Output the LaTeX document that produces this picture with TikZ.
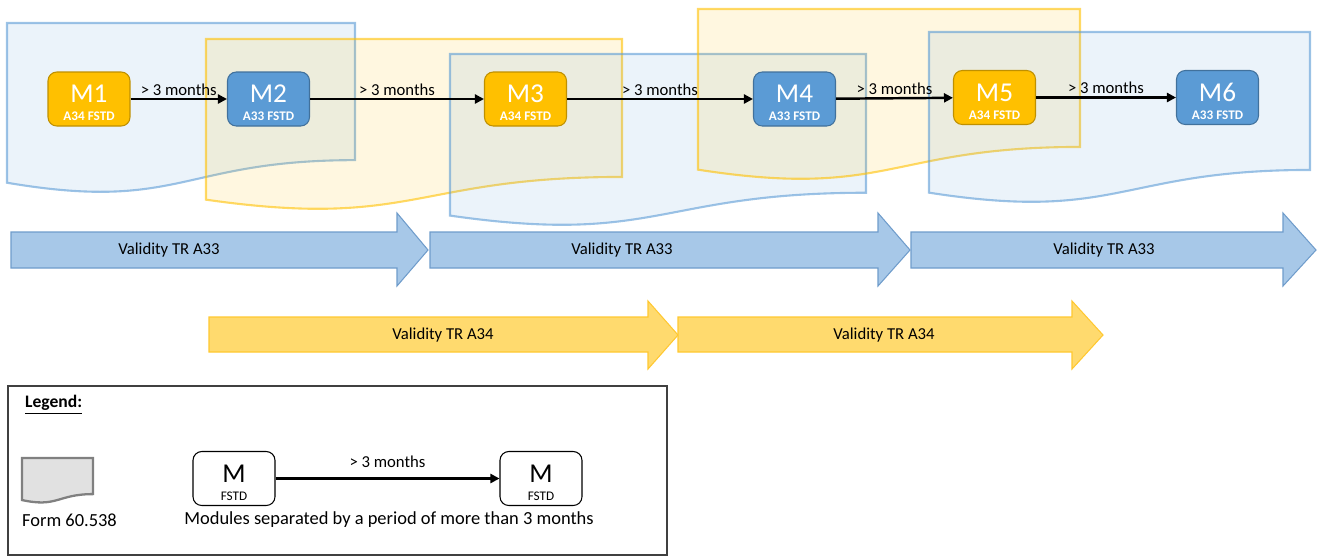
\documentclass[tikz,border=0pt]{standalone}
\usepackage{fontspec}
\setmainfont{Carlito}
\usetikzlibrary{arrows.meta}
\definecolor{ModBlue}{HTML}{5B9BD5}
\definecolor{ModBlueLine}{HTML}{41719C}
\definecolor{ModGold}{HTML}{FFC000}
\definecolor{ModGoldLine}{HTML}{BF9000}
\definecolor{TRBlue}{HTML}{A7C8E8}
\definecolor{TRBlueLine}{HTML}{6F9CCB}
\definecolor{TRGold}{HTML}{FFDA6E}
\definecolor{TRGoldLine}{HTML}{FFC830}
\definecolor{FormGrey}{HTML}{E1E1E1}
\definecolor{FormGreyLine}{HTML}{808080}

% form sheet with wavy bottom: [style]{left}{top}{width}{height}
\newcommand{\formsheet}[5][]{%
  \path[#1] (#2,#3) -- ({#2+#4},#3) -- ({#2+#4},{#3+0.802*#5})
    .. controls ({#2+0.5*#4},{#3+0.802*#5}) and ({#2+0.5*#4},{#3+1.107*#5})
    .. (#2,{#3+0.934*#5}) -- cycle;}
% module label: big name over small FSTD line
\newcommand{\modtext}[2]{\rule{0pt}{14.5pt}{\fontsize{15.5}{15}\selectfont\mdseries #1}\\#2}

\begin{document}
\begin{tikzpicture}[
        x=0.02cm, y=-0.02cm,
        every node/.style={font=\fontsize{9.5}{11}\selectfont},
        legendtext/.style={font=\fontsize{10.5}{12}\selectfont},
        formblue/.style={draw=ModBlue, fill=ModBlue, draw opacity=0.6, fill opacity=0.12, line width=1.2pt},
        formgold/.style={draw=ModGold, fill=ModGold, draw opacity=0.6, fill opacity=0.12, line width=1.2pt},
        formicon/.style={draw=FormGreyLine, fill=FormGrey, line width=1.3pt},
        module/.style={rectangle, rounded corners=5pt, minimum width=1.64cm, minimum height=1.08cm, align=center, inner sep=0pt, line width=0.6pt, text=white, font=\fontsize{7.5}{10.2}\selectfont\bfseries},
        a34/.style={module, fill=ModGold, draw=ModGoldLine},
        a33/.style={module, fill=ModBlue, draw=ModBlueLine},
        mfstd/.style={module, fill=white, draw=black, text=black, font=\fontsize{7.5}{10.2}\selectfont},
        trblue/.style={draw=TRBlueLine, fill=TRBlue, line width=0.6pt},
        trgold/.style={draw=TRGoldLine, fill=TRGold, line width=0.6pt},
        gap/.style={-{Triangle[length=1.8mm, width=1.8mm]}, line width=1.4pt},
        months/.style={above, inner sep=1.5pt}
    ]
        \useasboundingbox (0,0) rectangle (1318,556);

        % Form 60.538 sheets
        \formsheet[formblue]{7}{23}{348}{171}
        \formsheet[formgold]{206}{39}{416}{172}
        \formsheet[formblue]{450}{54}{416}{173}
        \formsheet[formgold]{698}{9}{382}{172}
        \formsheet[formblue]{929}{32}{381}{172}

        % validity of the type rating
        \draw[trblue] (11,232) -- (397,232) -- (397,213) -- (428,250) -- (397,286) -- (397,268) -- (11,268) -- cycle;
        \draw[trblue] (430,232) -- (878,232) -- (878,213) -- (910,250) -- (878,286) -- (878,268) -- (430,268) -- cycle;
        \draw[trblue] (911,232) -- (1283,232) -- (1283,213) -- (1316,250) -- (1283,286) -- (1283,268) -- (911,268) -- cycle;
        \draw[trgold] (209,317) -- (648,317) -- (648,301) -- (678,335) -- (648,369) -- (648,352) -- (209,352) -- cycle;
        \draw[trgold] (678,317) -- (1072,317) -- (1072,301) -- (1103,335) -- (1072,369) -- (1072,352) -- (678,352) -- cycle;
        \node (va1) at (169,250) {Validity TR A33};
        \node (va2) at (622,250) {Validity TR A33};
        \node (va3) at (1104,250) {Validity TR A33};
        \node (vb1) at (443,335) {Validity TR A34};
        \node (vb2) at (884,335) {Validity TR A34};

        % modules
        \node[a34] (m1) at (89,99) {\modtext{M1}{A34 FSTD}};
        \node[a33] (m2) at (268.5,99) {\modtext{M2}{A33 FSTD}};
        \node[a34] (m3) at (525.5,99) {\modtext{M3}{A34 FSTD}};
        \node[a33] (m4) at (794.5,99) {\modtext{M4}{A33 FSTD}};
        \node[a34] (m5) at (994.5,97.5) {\modtext{M5}{A34 FSTD}};
        \node[a33] (m6) at (1217.5,97.5) {\modtext{M6}{A33 FSTD}};

        \draw[gap] (m1) -- node[months]{> 3 months} (m2);
        \draw[gap] (m2) -- node[months]{> 3 months} (m3);
        \draw[gap] (m3) -- node[months]{> 3 months} (m4);
        \draw[gap] (m4) -- node[months]{> 3 months} (m5);
        \draw[gap] (m5) -- node[months]{> 3 months} (m6);

        % legend
        \draw[draw=black!75, line width=0.7pt] (8,386) rectangle (667,555);
        \node[anchor=west, font=\fontsize{10}{12}\selectfont\bfseries] (legend) at (19,405) {\underline{Legend:}};
        \formsheet[formicon]{22}{458}{71}{45}
        \node[legendtext] (formname) at (69.5,520) {Form 60.538};
        \node[mfstd] (lm1) at (234,478.5) {\modtext{M}{FSTD}};
        \node[mfstd] (lm2) at (541,478.5) {\modtext{M}{FSTD}};
        \draw[gap] (lm1) -- node[months, above=4pt]{> 3 months} (lm2);
        \node[legendtext] (gapname) at (389,520) {Modules separated by a period of more than 3 months};
\end{tikzpicture}
\end{document}
